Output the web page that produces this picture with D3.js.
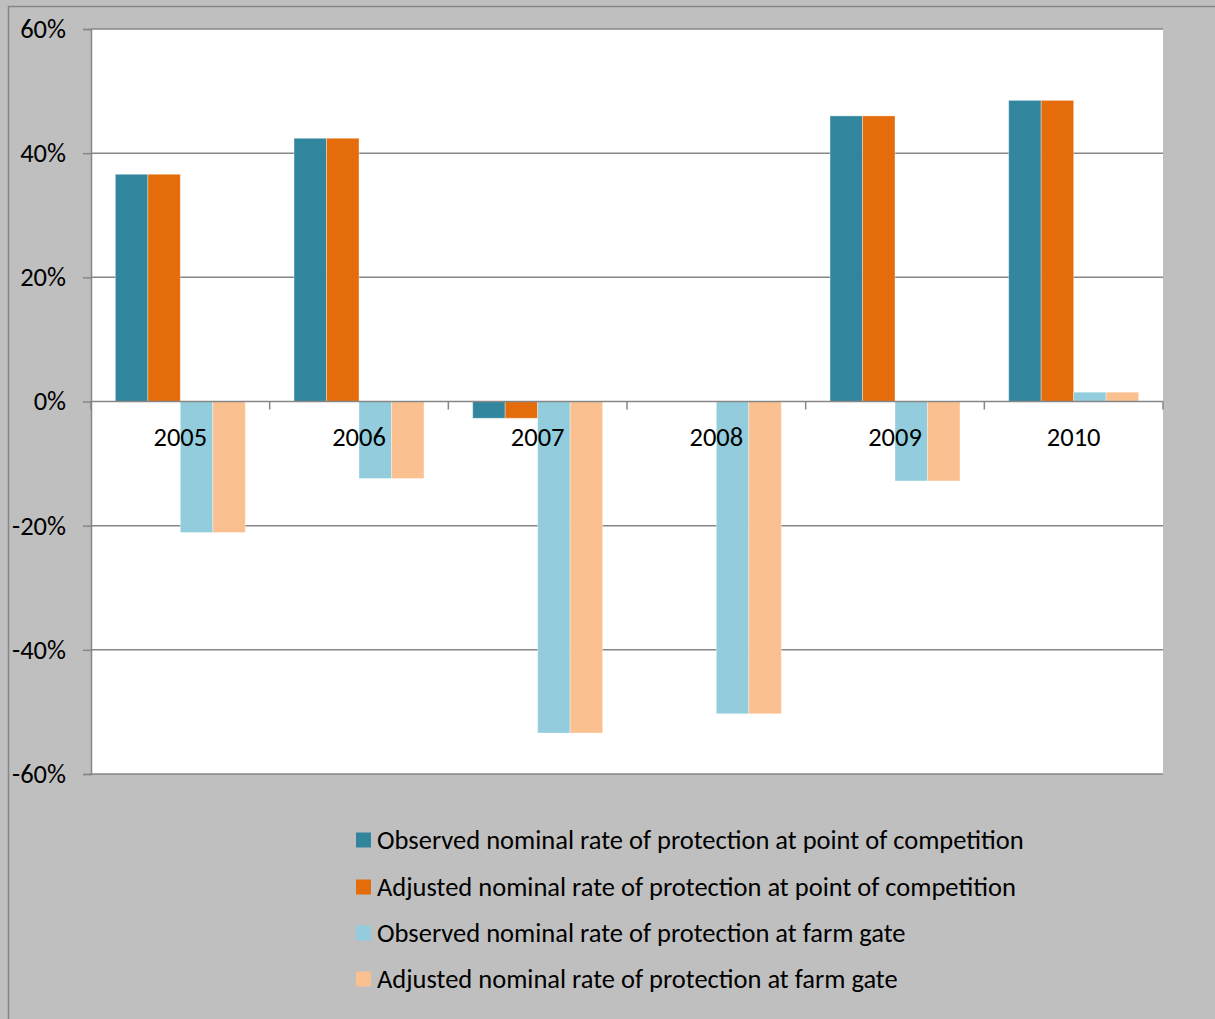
<!DOCTYPE html>
<html>
<head>
<meta charset="utf-8">
<script src="https://cdn.jsdelivr.net/npm/d3@7"></script>
<style>
  html, body { margin: 0; padding: 0; background: #BFBFBF; }
  svg { display: block; }
  text { font-family: Carlito, Calibri, Lato, "Open Sans", sans-serif; fill: #000; }
</style>
</head>
<body>
<svg id="chart" width="1215" height="1019"></svg>
<script>
const categories = ["2005", "2006", "2007", "2008", "2009", "2010"];
const seriesNames = [
  "Observed nominal rate of protection at point of competition",
  "Adjusted nominal rate of protection at point of competition",
  "Observed nominal rate of protection at farm gate",
  "Adjusted nominal rate of protection at farm gate"
];
const observedPoc = [36.6, 42.4, -2.7, 0, 46.0, 48.5];
const adjustedPoc = [36.6, 42.4, -2.7, 0, 46.0, 48.5];
const observedFarm = [-21.1, -12.4, -53.4, -50.3, -12.8, 1.5];
const adjustedFarm = [-21.1, -12.4, -53.4, -50.3, -12.8, 1.5];
const yTicks = [-60, -40, -20, 0, 20, 40, 60];
const colors = ["#31859C", "#E46C0A", "#93CDDD", "#FAC090"];

const seriesValues = [observedPoc, adjustedPoc, observedFarm, adjustedFarm];

const svg = d3.select("#chart");
const plot = { left: 91, right: 1163, top: 29, bottom: 774 };
const grid = "#868686";
const fontSize = 26.5;

// outer chart border
svg.append("rect").attr("x", 8.5).attr("y", 6.5).attr("width", 1400).attr("height", 1200)
  .attr("fill", "#BFBFBF").attr("stroke", grid).attr("stroke-width", 1.5);

// plot area
svg.append("rect").attr("x", plot.left).attr("y", plot.top)
  .attr("width", plot.right - plot.left).attr("height", plot.bottom - plot.top)
  .attr("fill", "#FFFFFF");

const y = d3.scaleLinear().domain([-60, 60]).range([plot.bottom, plot.top]);
const x0 = d3.scaleBand().domain(categories).range([plot.left, plot.right]).paddingInner(0).paddingOuter(0);
// gap width 150%: 4 bars + 1.5 bar gap per band
const barW = x0.bandwidth() / 5.5;
const x1 = d3.scaleBand().domain(d3.range(4)).range([0, barW * 4]);

// gridlines
svg.append("g").selectAll("line").data(yTicks.filter(t => t !== 0)).join("line")
  .attr("x1", plot.left).attr("x2", plot.right)
  .attr("y1", d => y(d)).attr("y2", d => y(d))
  .attr("stroke", grid).attr("stroke-width", 1.5);

// y axis
const yAxis = d3.axisLeft(y).tickValues(yTicks).tickSize(8).tickPadding(17)
  .tickFormat(d => d + "%");
const gy = svg.append("g").attr("transform", `translate(${plot.left},0)`).call(yAxis);
gy.select(".domain").attr("stroke", grid).attr("stroke-width", 1.5);
gy.selectAll(".tick line").attr("stroke", grid).attr("stroke-width", 1.5);
gy.selectAll(".tick text").attr("font-size", fontSize)
  .attr("font-family", "Carlito, Calibri, Lato, sans-serif").attr("fill", "#000");

// bars
const groups = svg.append("g").selectAll("g").data(categories).join("g")
  .attr("transform", d => `translate(${x0(d) + barW * 0.75},0)`);
groups.selectAll("rect").data((d, i) => seriesValues.map((s, k) => ({ k, v: s[i] })))
  .join("rect")
  .attr("x", d => x1(d.k))
  .attr("width", x1.bandwidth())
  .attr("y", d => y(Math.max(0, d.v)))
  .attr("height", d => Math.abs(y(d.v) - y(0)))
  .attr("fill", d => colors[d.k])
  .attr("stroke", "rgba(255,255,255,0.35)")
  .attr("stroke-width", 1);

// x axis at zero
const xAxisLine = svg.append("g");
xAxisLine.append("line").attr("x1", plot.left).attr("x2", plot.right)
  .attr("y1", y(0)).attr("y2", y(0)).attr("stroke", grid).attr("stroke-width", 1.5);
const boundaries = categories.map(c => x0(c)).concat([plot.right]);
xAxisLine.selectAll("line.tk").data(boundaries).join("line").attr("class", "tk")
  .attr("x1", d => d).attr("x2", d => d)
  .attr("y1", y(0)).attr("y2", y(0) + 8)
  .attr("stroke", grid).attr("stroke-width", 1.5);
xAxisLine.selectAll("text").data(categories).join("text")
  .attr("x", d => x0(d) + x0.bandwidth() / 2)
  .attr("y", y(0) + 35)
  .attr("dominant-baseline", "central")
  .attr("text-anchor", "middle")
  .attr("font-size", fontSize)
  .text(d => d);

// legend
const legend = svg.append("g");
const legY = [840, 887, 933, 979];
seriesNames.forEach((name, k) => {
  legend.append("rect").attr("x", 356).attr("y", legY[k] - 7.5)
    .attr("width", 15).attr("height", 15).attr("fill", colors[k]);
  legend.append("text").attr("x", 377).attr("y", legY[k])
    .attr("dominant-baseline", "central")
    .attr("font-size", fontSize).text(name);
});
</script>
</body>
</html>
